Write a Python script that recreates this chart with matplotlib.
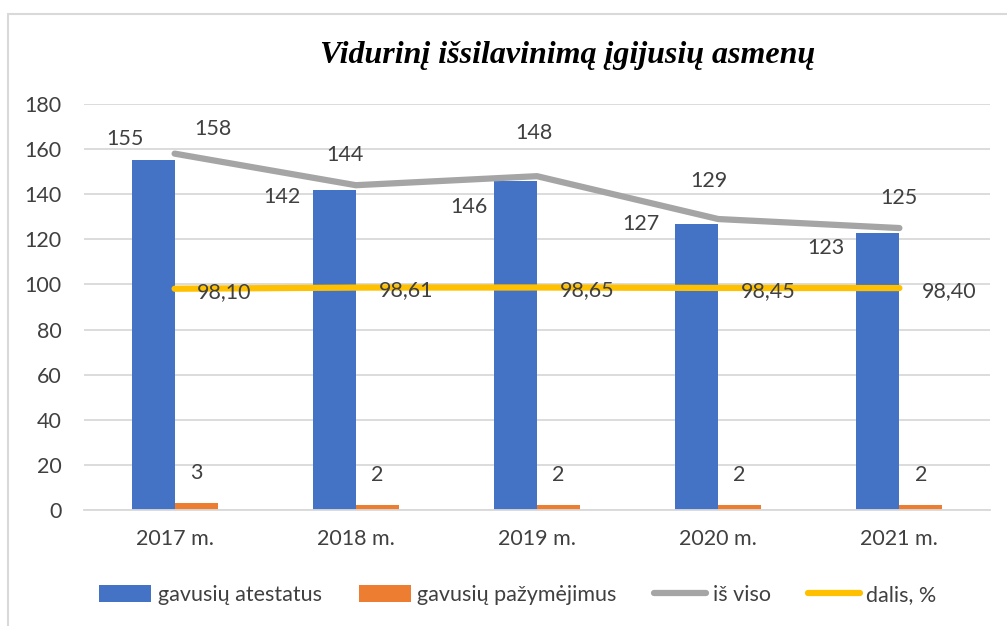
import numpy as np
import matplotlib
matplotlib.use('Agg')
from matplotlib import pyplot as plt
from matplotlib.patches import Rectangle

years = ['2017 m.', '2018 m.', '2019 m.', '2020 m.', '2021 m.']
atestatai = [155, 142, 146, 127, 123]
pazymejimai = [3, 2, 2, 2, 2]
is_viso = [158, 144, 148, 129, 125]
dalis = [98.10, 98.61, 98.65, 98.45, 98.40]

# label offsets in pixels (hand placed in the original)
blue_off = [(-50, 21), (-74, -7), (-68, -26), (-77, 0), (-73, -15)]
gray_off = [(38, 25), (-11, 30), (-3, 43), (-9, 38), (0, 30)]

BLUE = '#4472C4'
ORANGE = '#ED7D31'
GRAY = '#A5A5A5'
YELLOW = '#FFC000'
TXT = '#404040'
FONT = 'Lato'
FS = 15.5

fig = plt.figure(figsize=(10.07, 6.26), dpi=100)
fig.patches.append(Rectangle((8 / 1007, -0.1), 1.2, (613 + 62) / 626, transform=fig.transFigure,
                             fill=False, edgecolor='#d9d9d9', linewidth=1.5))
ax = fig.add_axes([84 / 1007, 116 / 626, 906 / 1007, 406 / 626])

x = np.arange(len(years))
w = 0.237
b1 = ax.bar(x - w / 2, atestatai, w, color=BLUE, label='gavusių atestatus', zorder=2)
b2 = ax.bar(x + w / 2, pazymejimai, w, color=ORANGE, label='gavusių pažymėjimus', zorder=2)
l1, = ax.plot(x, is_viso, color=GRAY, lw=4.5, solid_capstyle='round', label='iš viso', zorder=3)
l2, = ax.plot(x, dalis, color=YELLOW, lw=4.5, solid_capstyle='round', label='dalis, %', zorder=3)

lab = dict(fontsize=FS, color=TXT, family=FONT, ha='center', va='center',
           textcoords='offset pixels', zorder=4)
for i in range(len(years)):
    ax.annotate(str(atestatai[i]), (x[i], atestatai[i]), xytext=blue_off[i], **lab)
    ax.annotate(str(pazymejimai[i]), (x[i] + w / 2, pazymejimai[i]), xytext=(0, 30), **lab)
    ax.annotate(str(is_viso[i]), (x[i], is_viso[i]), xytext=gray_off[i], **lab)
    ax.annotate(f'{dalis[i]:.2f}'.replace('.', ','), (x[i], dalis[i]), xytext=(50, -3), **lab)

ax.set_xlim(-0.5, len(years) - 0.5)
ax.set_ylim(0, 180)
ax.set_yticks(range(0, 181, 20))
ax.set_xticks(x)
ax.set_xticklabels(years)
ax.grid(axis='y', color='#d9d9d9', lw=1.3, zorder=0)
ax.set_axisbelow(True)
for s in ['top', 'right', 'left']:
    ax.spines[s].set_visible(False)
ax.spines['bottom'].set_color('#d9d9d9')
ax.spines['bottom'].set_linewidth(1.3)
ax.tick_params(length=0, labelsize=FS, labelcolor=TXT, pad=16)
ax.tick_params(axis='x', pad=14)
for t in ax.get_xticklabels() + ax.get_yticklabels():
    t.set_family(FONT)

fig.text(568 / 1007, 1 - 56 / 626, 'Vidurinį išsilavinimą įgijusių asmenų', ha='center', va='center',
         fontsize=23, fontweight='bold', fontstyle='italic', family='Liberation Serif')

fig.legend([b1, b2, l1, l2], ['gavusių atestatus', 'gavusių pažymėjimus', 'iš viso', 'dalis, %'],
           loc='center', bbox_to_anchor=(518 / 1007, 1 - 595 / 626), ncol=4, frameon=False,
           prop={'family': FONT, 'size': FS}, labelcolor=TXT, handlelength=2.4,
           handleheight=0.8, columnspacing=1.75, handletextpad=0.3)

fig.savefig('out.png', dpi=100, facecolor='white')
